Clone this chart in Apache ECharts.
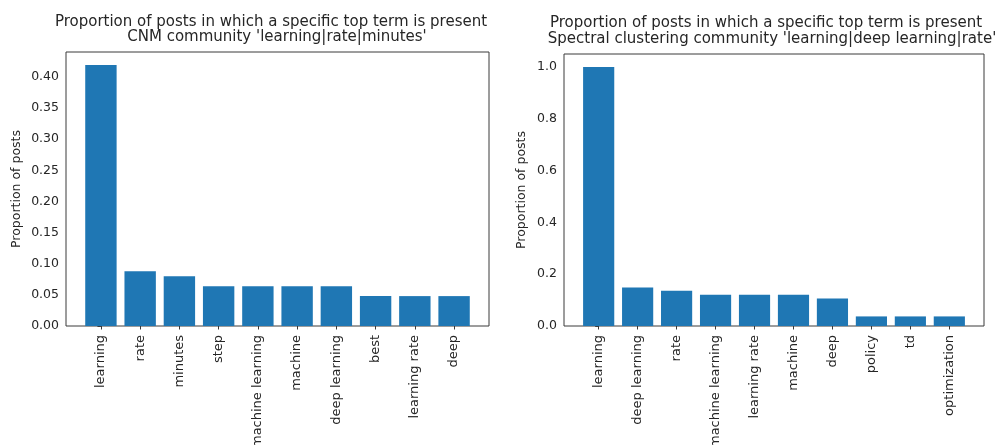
<!DOCTYPE html>
<html>
<head>
<meta charset="utf-8">
<script src="https://cdn.jsdelivr.net/npm/echarts@6.0.0/dist/echarts.min.js"></script>
<style>
  html, body { margin: 0; padding: 0; background: #ffffff; }
  #chart { width: 1000px; height: 445px; }
</style>
</head>
<body>
<div id="chart"></div>
<script>
// CNM community: share of posts containing each top term
const cnmTerms = ['learning', 'rate', 'minutes', 'step', 'machine learning', 'machine', 'deep learning', 'best', 'learning rate', 'deep'];
const cnmShare = [0.419, 0.088, 0.080, 0.064, 0.064, 0.064, 0.064, 0.048, 0.048, 0.048];
const cnmTicks = [0, 0.05, 0.10, 0.15, 0.20, 0.25, 0.30, 0.35, 0.40];

// Spectral clustering community: share of posts containing each top term
const spectralTerms = ['learning', 'deep learning', 'rate', 'machine learning', 'learning rate', 'machine', 'deep', 'policy', 'td', 'optimization'];
const spectralShare = [1.0, 0.149, 0.136, 0.121, 0.121, 0.121, 0.106, 0.037, 0.037, 0.037];
const spectralTicks = [0, 0.2, 0.4, 0.6, 0.8, 1.0];

const cnmTitle = ['Proportion of posts in which a specific top term is present', "CNM community 'learning|rate|minutes'"];
const spectralTitle = ['Proportion of posts in which a specific top term is present', "Spectral clustering community 'learning|deep learning|rate'"];
const yName = 'Proportion of posts';

const FONT = '"DejaVu Sans", sans-serif';
const INK = '#262626';
const FRAME = '#3a3a3a';
const BAR = '#1f77b4';

// bars are 0.8 wide, axes padded by 5% of the data span (like pyplot defaults)
function xRange(n) {
  const span = (n - 1) + 0.8;
  return [-0.4 - 0.05 * span, n - 1 + 0.4 + 0.05 * span];
}

function xAxisFor(terms, gridIndex) {
  const [lo, hi] = xRange(terms.length);
  const idx = terms.map((_, i) => i);
  return {
    type: 'value', gridIndex, min: lo, max: hi,
    axisLine: { show: false },
    splitLine: { show: false },
    axisTick: { show: true, inside: false, length: 3.5, customValues: idx, lineStyle: { color: FRAME, width: 1 } },
    axisLabel: {
      customValues: idx, rotate: 90, margin: 9,
      formatter: v => terms[Math.round(v)],
      color: INK, fontSize: 13, fontFamily: FONT
    }
  };
}

function yAxisFor(values, ticks, digits, gridIndex, gap) {
  return {
    type: 'value', gridIndex, min: 0, max: Math.max(...values) * 1.05,
    name: yName, nameLocation: 'middle', nameGap: gap, nameRotate: 90,
    nameTextStyle: { color: INK, fontSize: 12.5, fontFamily: FONT },
    axisLine: { show: false },
    splitLine: { show: false },
    axisTick: { show: true, inside: false, length: 3.5, customValues: ticks, lineStyle: { color: FRAME, width: 1 } },
    axisLabel: {
      customValues: ticks, margin: 7,
      formatter: v => v.toFixed(digits),
      color: INK, fontSize: 12.5, fontFamily: FONT
    }
  };
}

function titleText(text, x, y) {
  return {
    type: 'text', x, y, silent: true,
    style: { text, fill: INK, fontSize: 15, fontFamily: FONT, align: 'center', verticalAlign: 'middle' }
  };
}

const chart = echarts.init(document.getElementById('chart'), null, { renderer: 'canvas' });
chart.setOption({
  animation: false,
  backgroundColor: '#ffffff',
  grid: [
    { left: 66, right: 511, top: 52, bottom: 119, outerBoundsMode: 'none', containLabel: false, show: true, borderColor: FRAME, borderWidth: 1, backgroundColor: 'transparent' },
    { left: 564, right: 16, top: 54, bottom: 119, outerBoundsMode: 'none', containLabel: false, show: true, borderColor: FRAME, borderWidth: 1, backgroundColor: 'transparent' }
  ],
  xAxis: [xAxisFor(cnmTerms, 0), xAxisFor(spectralTerms, 1)],
  yAxis: [yAxisFor(cnmShare, cnmTicks, 2, 0, 43), yAxisFor(spectralShare, spectralTicks, 1, 1, 36)],
  series: [
    {
      type: 'bar', xAxisIndex: 0, yAxisIndex: 0, barWidth: '80%',
      itemStyle: { color: BAR },
      data: cnmShare.map((v, i) => [i, v])
    },
    {
      type: 'bar', xAxisIndex: 1, yAxisIndex: 1, barWidth: '80%',
      itemStyle: { color: BAR },
      data: spectralShare.map((v, i) => [i, v])
    }
  ],
  graphic: [
    titleText(cnmTitle[0], 271, 22),
    titleText(cnmTitle[1], 277, 37.5),
    titleText(spectralTitle[0], 766, 23.5),
    titleText(spectralTitle[1], 772, 39)
  ]
});
</script>
</body>
</html>
